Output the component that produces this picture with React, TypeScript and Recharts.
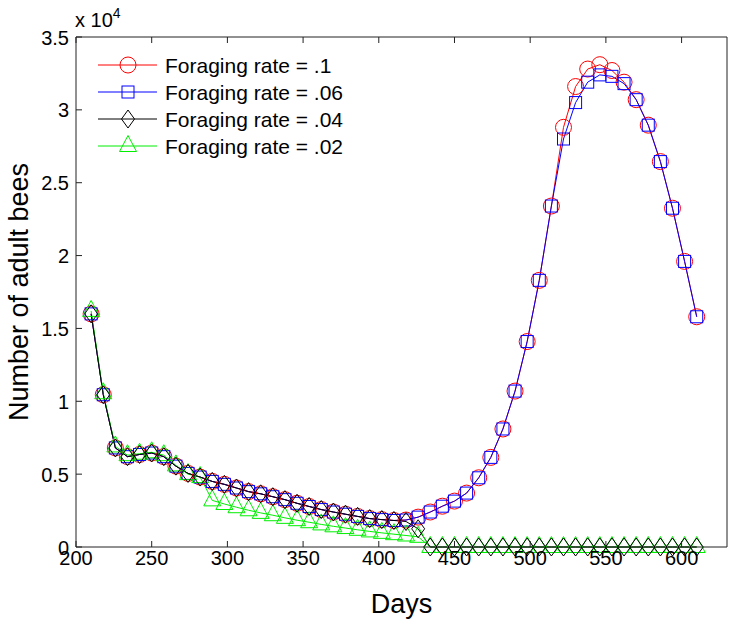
import React from 'react';
import { LineChart, Line, XAxis, YAxis, Legend } from 'recharts';

const days = [
  210, 218, 226, 234, 242, 250, 258, 266, 274, 282, 290, 298, 306, 314, 322, 330, 338,
  346, 354, 362, 370, 378, 386, 394, 402, 410, 418, 426, 434, 442, 450, 458, 466, 474,
  482, 490, 498, 506, 514, 522, 530, 538, 546, 554, 562, 570, 578, 586, 594, 602, 610,
];

const rate10 = [
  16000, 10450, 6800, 6200, 6350, 6450, 6200, 5550, 5050, 4800, 4500, 4300, 4050, 3800, 3650, 3450, 3250,
  3000, 2780, 2570, 2400, 2250, 2100, 1950, 1880, 1820, 1850, 2050, 2400, 2800, 3150, 3700, 4750, 6150,
  8100, 10700, 14100, 18300, 23400, 28800, 31600, 32800, 33100, 32700, 31900, 30700, 28950, 26450, 23250, 19600, 15800,
];

const rate06 = [
  16000, 10450, 6800, 6200, 6350, 6450, 6200, 5550, 5050, 4800, 4500, 4300, 4050, 3800, 3650, 3450, 3250,
  3000, 2780, 2570, 2400, 2250, 2100, 1950, 1880, 1820, 1850, 2050, 2400, 2800, 3150, 3700, 4750, 6150,
  8100, 10700, 14100, 18300, 23400, 28000, 30500, 31900, 32400, 32300, 31800, 30700, 28950, 26450, 23250, 19600, 15800,
];

const rate04 = [
  16000, 10450, 6800, 6200, 6350, 6450, 6200, 5550, 5050, 4800, 4500, 4300, 4050, 3800, 3650, 3450, 3250,
  3000, 2780, 2570, 2400, 2250, 2100, 1950, 1880, 1820, 1750, 1250, 0, 0, 0, 0, 0, 0,
  0, 0, 0, 0, 0, 0, 0, 0, 0, 0, 0, 0, 0, 0, 0, 0, 0,
];

const rate02 = [
  16200, 10550, 6900, 6300, 6400, 6500, 6300, 5600, 5000, 4800, 3200, 2950, 2730, 2520, 2340, 2180, 2000,
  1840, 1700, 1550, 1420, 1300, 1180, 1070, 970, 880, 790, 700, 0, 0, 0, 0, 0, 0,
  0, 0, 0, 0, 0, 0, 0, 0, 0, 0, 0, 0, 0, 0, 0, 0, 0,
];

const xTicks = [200, 250, 300, 350, 400, 450, 500, 550, 600];
const yTicks = [0, 5000, 10000, 15000, 20000, 25000, 30000, 35000];

const seriesNames = ['Foraging rate = .1', 'Foraging rate = .06', 'Foraging rate = .04', 'Foraging rate = .02'];
const seriesColors = ['#ff0000', '#0000ff', '#000000', '#00ee00'];
const seriesShapes = ['circle', 'square', 'diamond', 'triangle'];
const seriesKeys = ['r10', 'r06', 'r04', 'r02'];
// drawing order: black diamonds last so they stay visible on the zero line
const drawOrder = [0, 1, 3, 2];

const data = days.map((d, i) => ({
  day: d,
  r10: rate10[i],
  r06: rate06[i],
  r04: rate04[i],
  r02: rate02[i],
}));

const FONT = '"Liberation Sans", Arial, Helvetica, sans-serif';
const AXIS = '#222';

function Marker({ shape, cx, cy, color }: any) {
  if (cx == null || cy == null || isNaN(cx) || isNaN(cy)) return null;
  const common = { fill: 'none', stroke: color, strokeWidth: 1 };
  switch (shape) {
    case 'circle':
      return <circle cx={cx} cy={cy} r={8} {...common} />;
    case 'square':
      return <rect x={cx - 6} y={cy - 6} width={12} height={12} {...common} />;
    case 'diamond':
      return (
        <polygon
          points={`${cx},${cy - 9} ${cx + 6.5},${cy} ${cx},${cy + 9} ${cx - 6.5},${cy}`}
          {...common}
        />
      );
    default:
      return (
        <polygon points={`${cx},${cy - 10.5} ${cx + 8.5},${cy + 5.5} ${cx - 8.5},${cy + 5.5}`} {...common} />
      );
  }
}

const BottomTick = (props: any) => {
  const { x, y, payload } = props;
  return (
    <g>
      <line x1={x} x2={x} y1={y} y2={y - 6} stroke={AXIS} strokeWidth={1} />
      <text x={x} y={y + 18} textAnchor="middle" fontSize={20} fontFamily={FONT} fill="#000">
        {payload.value}
      </text>
    </g>
  );
};

const TopTick = (props: any) => {
  const { x, y } = props;
  return <line x1={x} x2={x} y1={y} y2={y + 6} stroke={AXIS} strokeWidth={1} />;
};

const LeftTick = (props: any) => {
  const { x, y, payload } = props;
  return (
    <g>
      <line x1={x} x2={x + 6} y1={y} y2={y} stroke={AXIS} strokeWidth={1} />
      <text x={x - 7} y={y + 7.5} textAnchor="end" fontSize={20} fontFamily={FONT} fill="#000">
        {String(payload.value / 10000)}
      </text>
    </g>
  );
};

const RightTick = (props: any) => {
  const { x, y } = props;
  return <line x1={x} x2={x - 6} y1={y} y2={y} stroke={AXIS} strokeWidth={1} />;
};

const XTitle = (props: any) => {
  const vb = props.viewBox || { x: 76, y: 547, width: 651, height: 77 };
  return (
    <text x={vb.x + vb.width / 2} y={vb.y + 66} textAnchor="middle" fontSize={27} fontFamily={FONT} fill="#000">
      Days
    </text>
  );
};

const YTitle = (props: any) => {
  const vb = props.viewBox || { x: 0, y: 37, width: 76, height: 510 };
  const cy = vb.y + vb.height / 2;
  const cx = 28;
  return (
    <text
      x={cx}
      y={cy}
      transform={`rotate(-90, ${cx}, ${cy})`}
      textAnchor="middle"
      fontSize={27}
      fontFamily={FONT}
      fill="#000"
    >
      Number of adult bees
    </text>
  );
};

const ExpLabel = () => (
  <text x={75} y={27} fontSize={20} fontFamily={FONT} fill="#000">
    x 10
    <tspan fontSize={14} dy={-9}>
      4
    </tspan>
  </text>
);

const LegendContent = () => (
  <svg width={270} height={125} style={{ display: 'block' }}>
    {seriesNames.map((name, k) => {
      const cy = 15 + k * 27;
      return (
        <g key={`lg-${k}`}>
          <line x1={8} x2={67} y1={cy} y2={cy} stroke={seriesColors[k]} strokeWidth={1} />
          <Marker shape={seriesShapes[k]} cx={38} cy={cy} color={seriesColors[k]} />
          <text x={75} y={cy + 7.5} fontSize={21} fontFamily={FONT} fill="#000">
            {name}
          </text>
        </g>
      );
    })}
  </svg>
);

export default function App() {
  return (
    <div style={{ position: 'absolute', left: 0, top: 0, width: 732, height: 624, background: '#fff' }}>
      <LineChart width={732} height={624} data={data} margin={{ top: 36, right: 4, bottom: 0, left: 0 }}>
        <XAxis
          xAxisId="b"
          dataKey="day"
          type="number"
          domain={[200, 630]}
          ticks={xTicks}
          interval={0}
          height={77}
          tickSize={0}
          tickMargin={0}
          tickLine={false}
          axisLine={{ stroke: AXIS }}
          tick={<BottomTick />}
          label={<XTitle />}
        />
        <XAxis
          xAxisId="t"
          orientation="top"
          dataKey="day"
          type="number"
          domain={[200, 630]}
          ticks={xTicks}
          interval={0}
          height={1}
          tickSize={0}
          tickMargin={0}
          tickLine={false}
          axisLine={{ stroke: AXIS }}
          tick={<TopTick />}
          label={<ExpLabel />}
        />
        <YAxis
          yAxisId="l"
          type="number"
          domain={[0, 35000]}
          ticks={yTicks}
          interval={0}
          width={76}
          tickSize={0}
          tickMargin={0}
          tickLine={false}
          axisLine={{ stroke: AXIS }}
          tick={<LeftTick />}
          label={<YTitle />}
        />
        <YAxis
          yAxisId="r"
          orientation="right"
          type="number"
          domain={[0, 35000]}
          ticks={yTicks}
          interval={0}
          width={1}
          tickSize={0}
          tickMargin={0}
          tickLine={false}
          axisLine={{ stroke: AXIS }}
          tick={<RightTick />}
        />
        <Legend
          layout="vertical"
          align="center"
          verticalAlign="middle"
          wrapperStyle={{ left: 90, top: 50, width: 270, height: 125 }}
          content={<LegendContent />}
        />
        {drawOrder.map((i) => {
          const k = seriesKeys[i];
          return (
            <Line
              key={k}
              xAxisId="b"
              yAxisId="l"
              type="linear"
              dataKey={k}
              name={seriesNames[i]}
              stroke={seriesColors[i]}
              strokeWidth={1}
              isAnimationActive={false}
              activeDot={false}
              dot={(p: any) => (
                <Marker key={`${k}-${p.index}`} shape={seriesShapes[i]} cx={p.cx} cy={p.cy} color={seriesColors[i]} />
              )}
            />
          );
        })}
      </LineChart>
    </div>
  );
}
